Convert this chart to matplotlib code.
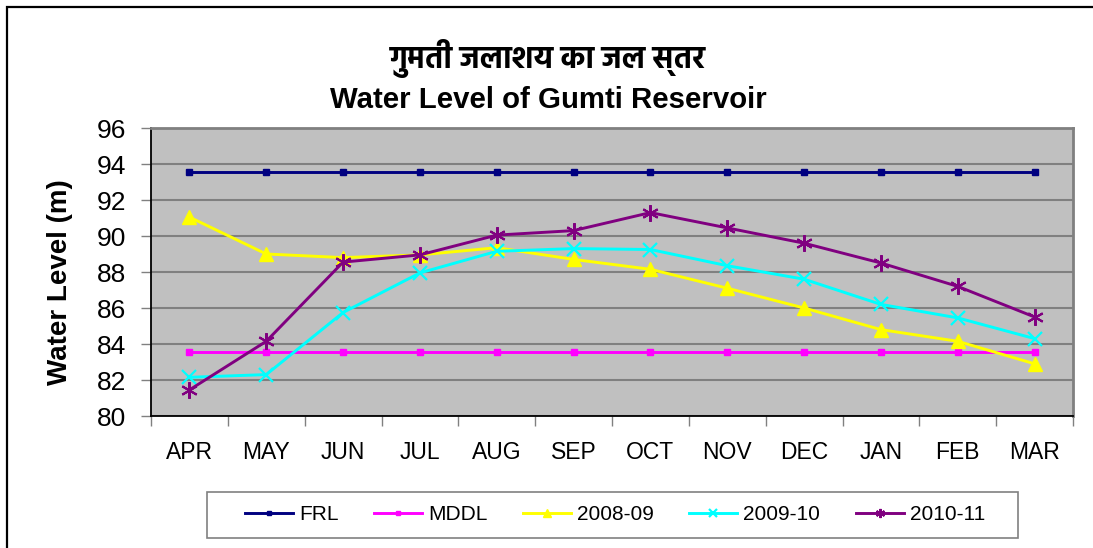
import matplotlib
matplotlib.use("Agg")
import matplotlib.pyplot as plt
from matplotlib import font_manager
from matplotlib.patches import Rectangle
from matplotlib.ticker import FixedLocator

# data
months = ["APR", "MAY", "JUN", "JUL", "AUG", "SEP", "OCT", "NOV", "DEC", "JAN", "FEB", "MAR"]
frl = [93.55] * 12
mddl = [83.57] * 12
wl_2008_09 = [91.05, 89.0, 88.8, 88.95, 89.35, 88.7, 88.15, 87.1, 86.0, 84.8, 84.15, 82.9]
wl_2009_10 = [82.15, 82.3, 85.75, 87.95, 89.15, 89.3, 89.25, 88.35, 87.6, 86.2, 85.45, 84.3]
wl_2010_11 = [81.45, 84.15, 88.55, 88.95, 90.05, 90.3, 91.3, 90.45, 89.6, 88.5, 87.2, 85.5]

title_hi = "गुमती जलाशय का जल स्तर"
title_en = "Water Level of Gumti Reservoir"
ylabel = "Water Level (m)"

base = ["Liberation Sans", "DejaVu Sans"]
plt.rcParams["font.family"] = base

# pick a Devanagari font that is installed, one with a bold face if possible
bold_names = set(f.name for f in font_manager.fontManager.ttflist
                 if isinstance(f.weight, int) and f.weight >= 700 or f.weight == "bold")
any_names = set(f.name for f in font_manager.fontManager.ttflist)
prefs = ["Hind", "Noto Sans Devanagari", "Mukta", "Poppins", "Annapurna SIL", "Biryani"]
hi_family = base
for pool in (bold_names, any_names):
    pick = [n for n in prefs if n in pool]
    if pick:
        hi_family = [pick[0]] + base
        break

W, H = 1093, 548
fig = plt.figure(figsize=(W / 100, H / 100), dpi=100)
ax = fig.add_axes([151 / W, 1 - 416 / H, (1073 - 151) / W, (416 - 128) / H])
ax.set_facecolor("#C0C0C0")

x = list(range(len(months)))
ax.plot(x, frl, color="#000080", lw=2.1, marker="s", ms=5, label="FRL", zorder=3)
ax.plot(x, mddl, color="#FF00FF", lw=2.1, marker="s", ms=5, label="MDDL", zorder=3)
ax.plot(x, wl_2008_09, color="#FFFF00", lw=2.1, marker="^", ms=10, label="2008-09", zorder=3)
ax.plot(x, wl_2009_10, color="#00FFFF", lw=2.1, marker="x", ms=10, mew=1.6, label="2009-10", zorder=3)
ax.plot(x, wl_2010_11, color="#800080", lw=2.1, marker=(6, 2, 0), ms=12, mew=1.5, label="2010-11", zorder=3)

ax.set_xlim(-0.5, 11.5)
ax.set_ylim(80, 96)
ax.set_yticks(range(80, 97, 2))
ax.set_xticks(x)
ax.set_xticklabels(months)
ax.xaxis.set_minor_locator(FixedLocator([i - 0.5 for i in range(13)]))
ax.tick_params(axis="x", which="major", length=0, pad=18, labelsize=16.5)
ax.tick_params(axis="x", which="minor", length=7, width=1, color="#808080", direction="out")
ax.tick_params(axis="y", which="major", length=7, width=1, color="#808080", pad=11, labelsize=19)

ax.yaxis.grid(True, color="#808080", lw=1.5)
ax.set_axisbelow(True)
for s in ["top", "right"]:
    ax.spines[s].set_color("#808080")
    ax.spines[s].set_linewidth(2)
for s in ["left", "bottom"]:
    ax.spines[s].set_color("black")
    ax.spines[s].set_linewidth(1.3)

# titles and axis label
fig.text(548 / W, 1 - 59 / H, title_hi, ha="center", va="center", fontsize=22,
         fontweight="bold", family=hi_family)
fig.text(548 / W, 1 - 100 / H, title_en, ha="center", va="center", fontsize=21.2, fontweight="bold")
fig.text(60 / W, 1 - 282 / H, ylabel, ha="center", va="center", rotation=90,
         fontsize=20, fontweight="bold")

# legend with its own box
leg = fig.legend(loc="center", bbox_to_anchor=(615 / W, 1 - 515 / H), ncol=5, frameon=False,
                 fontsize=15, handlelength=2.3, handletextpad=0.3, columnspacing=1.7,
                 markerscale=0.55)
fig.add_artist(Rectangle((207 / W, 1 - 538 / H), (1018 - 207) / W, 46 / H,
                         transform=fig.transFigure, fill=False, edgecolor="#808080", lw=1.2))

# outer chart frame (runs off the right and bottom of the picture)
fig.add_artist(Rectangle((6.5 / W, -0.1), 1.2, 1 - 7 / H + 0.1, transform=fig.transFigure,
                         fill=False, edgecolor="black", lw=1.6, clip_on=False))

fig.savefig("out.png", dpi=100)
